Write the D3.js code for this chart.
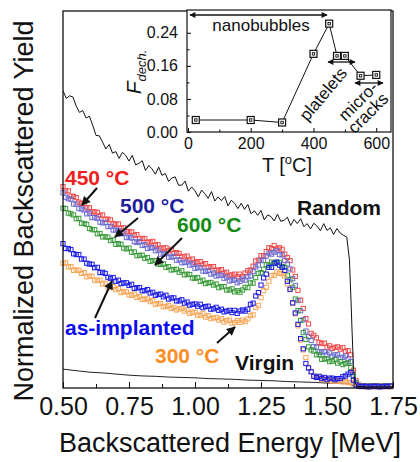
<!DOCTYPE html>
<html>
<head>
<meta charset="utf-8">
<script src="https://cdn.jsdelivr.net/npm/d3@7"></script>
<style>
body { margin: 0; background: #fff; }
svg { font-family: Arial, "Liberation Sans", sans-serif; }
</style>
</head>
<body>
<svg id="chart" width="420" height="462"></svg>
<script>
// energy channels (MeV) shared by the annealed / as-implanted spectra
var energy = [0.50,0.51,0.52,0.53,0.54,0.55,0.56,0.57,0.58,0.59,
              0.60,0.61,0.62,0.63,0.64,0.65,0.66,0.67,0.68,0.69,
              0.70,0.71,0.72,0.73,0.74,0.75,0.76,0.77,0.78,0.79,
              0.80,0.81,0.82,0.83,0.84,0.85,0.86,0.87,0.88,0.89,
              0.90,0.91,0.92,0.93,0.94,0.95,0.96,0.97,0.98,0.99,
              1.00,1.01,1.02,1.03,1.04,1.05,1.06,1.07,1.08,1.09,
              1.10,1.11,1.12,1.13,1.14,1.15,1.16,1.17,1.18,1.19,
              1.20,1.21,1.22,1.23,1.24,1.25,1.26,1.27,1.28,1.29,
              1.30,1.31,1.32,1.33,1.34,1.35,1.36,1.37,1.38,1.39,
              1.40,1.41,1.42,1.43,1.44,1.45,1.46,1.47,1.48,1.49,
              1.50,1.51,1.52,1.53,1.54,1.55,1.56,1.57,1.58,1.59,
              1.60,1.61,1.62,1.63,1.64,1.65,1.66,1.67,1.68,1.69,
              1.70,1.71,1.72,1.73,1.74];

var y450 = [0.534,0.523,0.523,0.509,0.508,0.505,0.493,0.490,0.489,0.478,
            0.478,0.468,0.467,0.466,0.457,0.459,0.447,0.448,0.446,0.436,
            0.434,0.435,0.424,0.425,0.415,0.415,0.414,0.405,0.407,0.396,
            0.397,0.396,0.387,0.387,0.389,0.379,0.380,0.371,0.371,0.372,
            0.364,0.368,0.357,0.359,0.357,0.349,0.348,0.350,0.340,0.342,
            0.333,0.335,0.335,0.327,0.330,0.320,0.322,0.322,0.313,0.312,
            0.314,0.305,0.307,0.299,0.300,0.302,0.295,0.302,0.296,0.305,
            0.311,0.313,0.323,0.337,0.339,0.351,0.351,0.362,0.372,0.370,
            0.378,0.369,0.372,0.368,0.355,0.346,0.338,0.313,0.296,0.259,
            0.233,0.211,0.184,0.170,0.145,0.140,0.133,0.121,0.118,0.119,
            0.108,0.112,0.105,0.108,0.109,0.103,0.107,0.097,0.099,0.088,
            0.047,0.019,0.008,0.005,0.006,0.004,0.005,0.004,0.005,0.006,
            0.004,0.005,0.004,0.005,0.004];
var y500 = [0.518,0.506,0.502,0.501,0.488,0.488,0.476,0.475,0.472,0.462,
            0.464,0.452,0.452,0.450,0.440,0.438,0.439,0.428,0.429,0.419,
            0.419,0.418,0.409,0.411,0.399,0.400,0.398,0.388,0.386,0.388,
            0.378,0.380,0.370,0.372,0.372,0.364,0.366,0.355,0.356,0.356,
            0.347,0.347,0.349,0.339,0.340,0.332,0.333,0.334,0.326,0.329,
            0.317,0.320,0.319,0.310,0.309,0.312,0.302,0.305,0.297,0.299,
            0.299,0.291,0.294,0.284,0.286,0.287,0.279,0.283,0.289,0.286,
            0.295,0.297,0.309,0.321,0.326,0.339,0.338,0.350,0.358,0.355,
            0.360,0.364,0.354,0.353,0.338,0.329,0.316,0.290,0.272,0.232,
            0.205,0.181,0.151,0.136,0.126,0.110,0.108,0.096,0.095,0.096,
            0.088,0.093,0.084,0.088,0.088,0.081,0.081,0.085,0.077,0.070,
            0.034,0.015,0.006,0.004,0.005,0.004,0.005,0.006,0.004,0.005,
            0.004,0.005,0.004,0.005,0.006];
var y600 = [0.477,0.476,0.464,0.462,0.459,0.449,0.450,0.437,0.436,0.434,
            0.423,0.420,0.420,0.409,0.410,0.401,0.401,0.400,0.391,0.393,
            0.381,0.383,0.381,0.371,0.369,0.371,0.360,0.361,0.351,0.352,
            0.352,0.344,0.346,0.336,0.338,0.338,0.329,0.328,0.329,0.320,
            0.322,0.313,0.314,0.315,0.307,0.311,0.300,0.302,0.301,0.292,
            0.291,0.293,0.283,0.286,0.277,0.279,0.280,0.273,0.276,0.266,
            0.269,0.269,0.260,0.260,0.263,0.255,0.258,0.254,0.260,0.267,
            0.266,0.279,0.278,0.293,0.304,0.306,0.315,0.327,0.326,0.334,
            0.330,0.333,0.333,0.322,0.320,0.299,0.287,0.267,0.236,0.205,
            0.179,0.147,0.129,0.109,0.101,0.098,0.088,0.089,0.076,0.078,
            0.077,0.070,0.071,0.075,0.066,0.070,0.062,0.065,0.067,0.054,
            0.031,0.012,0.006,0.005,0.004,0.005,0.004,0.006,0.005,0.004,
            0.005,0.004,0.006,0.005,0.004];
var yAsImpl = [0.383,0.370,0.370,0.367,0.356,0.354,0.354,0.342,0.342,0.331,
               0.329,0.328,0.319,0.320,0.306,0.307,0.304,0.294,0.291,0.293,
               0.283,0.286,0.277,0.279,0.279,0.272,0.275,0.264,0.266,0.266,
               0.258,0.258,0.261,0.252,0.254,0.246,0.248,0.249,0.242,0.246,
               0.236,0.239,0.239,0.231,0.231,0.234,0.225,0.228,0.220,0.222,
               0.223,0.217,0.222,0.213,0.216,0.217,0.209,0.210,0.214,0.206,
               0.209,0.202,0.204,0.206,0.200,0.206,0.198,0.204,0.207,0.204,
               0.209,0.222,0.225,0.244,0.253,0.273,0.292,0.302,0.320,0.320,
               0.331,0.334,0.326,0.320,0.312,0.283,0.262,0.226,0.199,0.169,
               0.131,0.104,0.065,0.053,0.043,0.031,0.028,0.031,0.025,0.028,
               0.022,0.026,0.026,0.022,0.025,0.025,0.030,0.032,0.037,0.041,
               0.021,0.008,0.005,0.004,0.005,0.004,0.003,0.005,0.004,0.005,
               0.003,0.004,0.005,0.004,0.005];
var y300 = [0.331,0.332,0.321,0.322,0.312,0.313,0.312,0.304,0.306,0.295,
            0.297,0.296,0.286,0.285,0.286,0.276,0.278,0.268,0.268,0.269,
            0.261,0.264,0.253,0.256,0.255,0.247,0.246,0.249,0.240,0.243,
            0.235,0.236,0.236,0.229,0.232,0.222,0.224,0.224,0.216,0.216,
            0.219,0.211,0.214,0.207,0.210,0.211,0.204,0.208,0.198,0.201,
            0.201,0.193,0.193,0.197,0.188,0.192,0.184,0.186,0.187,0.180,
            0.184,0.175,0.179,0.180,0.172,0.174,0.179,0.174,0.180,0.176,
            0.183,0.192,0.194,0.213,0.219,0.240,0.258,0.267,0.283,0.298,
            0.299,0.308,0.304,0.303,0.297,0.276,0.261,0.224,0.197,0.165,
            0.127,0.101,0.081,0.055,0.044,0.032,0.029,0.028,0.022,0.024,
            0.020,0.021,0.018,0.020,0.018,0.019,0.016,0.017,0.015,0.014,
            0.011,0.007,0.005,0.004,0.005,0.003,0.004,0.005,0.004,0.003,
            0.005,0.004,0.005,0.004,0.003];

// random spectrum (finer channels)
var randomE = [0.5000,0.5125,0.5250,0.5375,0.5500,0.5625,0.5750,0.5875,0.6000,0.6125,
               0.6250,0.6375,0.6500,0.6625,0.6750,0.6875,0.7000,0.7125,0.7250,0.7375,
               0.7500,0.7625,0.7750,0.7875,0.8000,0.8125,0.8250,0.8375,0.8500,0.8625,
               0.8750,0.8875,0.9000,0.9125,0.9250,0.9375,0.9500,0.9625,0.9750,0.9875,
               1.0000,1.0125,1.0250,1.0375,1.0500,1.0625,1.0750,1.0875,1.1000,1.1125,
               1.1250,1.1375,1.1500,1.1625,1.1750,1.1875,1.2000,1.2125,1.2250,1.2375,
               1.2500,1.2625,1.2750,1.2875,1.3000,1.3125,1.3250,1.3375,1.3500,1.3625,
               1.3750,1.3875,1.4000,1.4125,1.4250,1.4375,1.4500,1.4625,1.4750,1.4875,
               1.5000,1.5125,1.5250,1.5375,1.5500,1.5625,1.5750,1.5850,1.5900,1.5950,
               1.6000,1.6050,1.6150,1.6500,1.7000,1.7500];
var randomY = [0.789,0.768,0.775,0.772,0.748,0.731,0.736,0.716,0.721,0.697,
               0.670,0.669,0.652,0.634,0.646,0.623,0.627,0.609,0.625,0.617,
               0.602,0.617,0.592,0.596,0.603,0.577,0.590,0.581,0.567,0.586,
               0.564,0.569,0.548,0.557,0.560,0.538,0.538,0.549,0.522,0.533,
               0.523,0.507,0.525,0.515,0.503,0.521,0.496,0.507,0.497,0.508,
               0.483,0.498,0.490,0.476,0.490,0.474,0.487,0.462,0.470,0.458,
               0.471,0.446,0.459,0.455,0.443,0.461,0.442,0.445,0.453,0.431,
               0.447,0.436,0.449,0.428,0.436,0.422,0.437,0.429,0.417,0.436,
               0.418,0.425,0.407,0.423,0.411,0.405,0.400,0.340,0.250,0.150,
               0.060,0.015,0.004,0.003,0.003,0.003];

var virginE = [0.50,0.55,0.60,0.65,0.70,0.75,0.80,0.85,0.90,0.95,1.00,1.05,1.10,1.15,
               1.20,1.25,1.30,1.35,1.40,1.45,1.50,1.55,1.58,1.60,1.65,1.70,1.75];
var virginY = [0.050,0.046,0.042,0.040,0.037,0.034,0.032,0.031,0.029,0.028,0.027,0.025,0.024,0.023,
               0.021,0.020,0.019,0.017,0.016,0.015,0.013,0.013,0.012,0.005,0.003,0.003,0.003];

// inset: dechanneling fraction vs annealing temperature
var insetT = [25, 200, 300, 400, 450, 475, 500, 550, 600];
var insetF = [0.029, 0.029, 0.023, 0.189, 0.262, 0.184, 0.184, 0.136, 0.138];

var xTicks = [0.50, 0.75, 1.00, 1.25, 1.50, 1.75];
var xMinor = [0.625, 0.875, 1.125, 1.375, 1.625];
var insetXTicks = [0, 200, 400, 600];
var insetYTicks = [0.00, 0.08, 0.16, 0.24];

var svg = d3.select("#chart");

var margin = { top: 11, right: 27, bottom: 74, left: 63 },
    width = 420 - margin.left - margin.right,
    height = 462 - margin.top - margin.bottom;

var defs = svg.append("defs");
defs.append("marker")
    .attr("id", "head")
    .attr("viewBox", "0 0 10 10")
    .attr("refX", 9).attr("refY", 5)
    .attr("markerUnits", "userSpaceOnUse")
    .attr("markerWidth", 10).attr("markerHeight", 9)
    .attr("orient", "auto-start-reverse")
    .append("path").attr("d", "M0,0 L10,5 L0,10 Z").attr("fill", "#111");
defs.append("marker")
    .attr("id", "headSmall")
    .attr("viewBox", "0 0 10 10")
    .attr("refX", 9).attr("refY", 5)
    .attr("markerUnits", "userSpaceOnUse")
    .attr("markerWidth", 8).attr("markerHeight", 6)
    .attr("orient", "auto-start-reverse")
    .append("path").attr("d", "M0,0 L10,5 L0,10 Z").attr("fill", "#111");

var g = svg.append("g")
    .attr("transform", "translate(" + margin.left + "," + margin.top + ")");

var x = d3.scaleLinear().domain([0.5, 1.75]).range([0, width]);
var y = d3.scaleLinear().domain([0, 1]).range([height, 0]);

// x axis
g.append("g")
    .attr("transform", "translate(0," + height + ")")
    .call(d3.axisBottom(x).tickValues(xTicks).tickSize(-6).tickPadding(9).tickFormat(d3.format(".2f")))
    .call(function(a) {
        a.select(".domain").remove();
        a.selectAll("text").style("font-size", "25px").attr("fill", "#111");
        a.selectAll("line").attr("stroke", "#111");
    });
g.append("g")
    .attr("transform", "translate(0," + height + ")")
    .call(d3.axisBottom(x).tickValues(xMinor).tickSize(-4).tickFormat(""))
    .call(function(a) { a.select(".domain").remove(); a.selectAll("line").attr("stroke", "#111"); });

// spectra with open squares
var line = d3.line().x(function(d) { return x(d[0]); }).y(function(d) { return y(d[1]); });

g.append("path")
    .datum(d3.zip(virginE, virginY))
    .attr("d", line).attr("fill", "none").attr("stroke", "#222").attr("stroke-width", 1);

var series = [
    { name: "450", values: y450, color: "#f04a4a" },
    { name: "500", values: y500, color: "#6a6ad0" },
    { name: "600", values: y600, color: "#3a9a3a" },
    { name: "300", values: y300, color: "#f7a556" },
    { name: "asimpl", values: yAsImpl, color: "#1a1ae6" }
];
var sq = 4.2;
series.forEach(function(s) {
    g.append("g").selectAll("rect")
        .data(d3.zip(energy, s.values))
        .enter().append("rect")
        .attr("x", function(d) { return x(d[0]) - sq / 2; })
        .attr("y", function(d) { return y(d[1]) - sq / 2; })
        .attr("width", sq).attr("height", sq)
        .attr("fill", "none")
        .attr("stroke", s.color)
        .attr("stroke-width", 1);
});

g.append("path")
    .datum(d3.zip(randomE, randomY))
    .attr("d", line).attr("fill", "none").attr("stroke", "#111").attr("stroke-width", 1);

// frame
g.append("rect").attr("width", width).attr("height", height)
    .attr("fill", "none").attr("stroke", "#111").attr("stroke-width", 1.3);

// axis titles
svg.append("text").attr("x", 230).attr("y", 452).attr("text-anchor", "middle")
    .style("font-size", "27px").attr("fill", "#111").text("Backscattered Energy [MeV]");
svg.append("text").attr("transform", "translate(33,211) rotate(-90)").attr("text-anchor", "middle")
    .style("font-size", "27px").attr("fill", "#111").text("Normalized Backscattered Yield");

// curve labels
var labels = [
    { t: "450 °C", x: 65, y: 185, c: "#f21d1d" },
    { t: "500 °C", x: 120, y: 213, c: "#1f1f9e" },
    { t: "600 °C", x: 177, y: 232, c: "#138a13" },
    { t: "as-implanted", x: 65, y: 335, c: "#0a0af0" },
    { t: "300 °C", x: 155, y: 363, c: "#ff8c1f" },
    { t: "Virgin", x: 235, y: 370, c: "#111" },
    { t: "Random", x: 297, y: 215, c: "#111" }
];
svg.selectAll(".lbl").data(labels).enter().append("text")
    .attr("class", "lbl")
    .attr("x", function(d) { return d.x; }).attr("y", function(d) { return d.y; })
    .style("font-size", "21px").style("font-weight", "bold")
    .attr("fill", function(d) { return d.c; })
    .text(function(d) { return d.t; });

var arrows = [
    [97, 188, 82, 205],
    [138, 218, 115, 237],
    [182, 238, 155, 265],
    [95, 318, 112, 281],
    [217, 343, 235, 327]
];
svg.selectAll(".arr").data(arrows).enter().append("line")
    .attr("class", "arr")
    .attr("x1", function(d) { return d[0]; }).attr("y1", function(d) { return d[1]; })
    .attr("x2", function(d) { return d[2]; }).attr("y2", function(d) { return d[3]; })
    .attr("stroke", "#111").attr("stroke-width", 2)
    .attr("marker-end", "url(#head)");

// ---- inset ----
var inL = 187, inT = 10, inW = 204, inH = 122;
var inset = svg.append("g").attr("transform", "translate(" + inL + "," + inT + ")");
inset.append("rect").attr("width", inW).attr("height", inH).attr("fill", "#fff");

var ix = d3.scaleLinear().domain([-3, 647]).range([0, inW]);
var iy = d3.scaleLinear().domain([0, 0.295]).range([inH, 0]);

inset.append("g")
    .attr("transform", "translate(0," + inH + ")")
    .call(d3.axisBottom(ix).tickValues(insetXTicks).tickSize(-4).tickPadding(6))
    .call(function(a) {
        a.select(".domain").remove();
        a.selectAll("text").style("font-size", "16px").attr("fill", "#111");
    });
inset.append("g")
    .attr("transform", "translate(0," + inH + ")")
    .call(d3.axisBottom(ix).tickValues([100, 300, 500]).tickSize(-2.5).tickFormat(""))
    .call(function(a) { a.select(".domain").remove(); });
inset.append("g")
    .call(d3.axisLeft(iy).tickValues(insetYTicks).tickSize(-4).tickPadding(9).tickFormat(d3.format(".2f")))
    .call(function(a) {
        a.select(".domain").remove();
        a.selectAll("text").style("font-size", "16px").attr("fill", "#111");
    });
inset.append("g")
    .call(d3.axisLeft(iy).tickValues([0.04, 0.12, 0.20]).tickSize(-2.5).tickFormat(""))
    .call(function(a) { a.select(".domain").remove(); });

inset.append("path")
    .datum(d3.zip(insetT, insetF))
    .attr("d", d3.line().x(function(d) { return ix(d[0]); }).y(function(d) { return iy(d[1]); }))
    .attr("fill", "none").attr("stroke", "#111").attr("stroke-width", 1);

var pts = inset.selectAll(".ip").data(d3.zip(insetT, insetF)).enter().append("g")
    .attr("class", "ip")
    .attr("transform", function(d) { return "translate(" + ix(d[0]) + "," + iy(d[1]) + ")"; });
pts.append("rect").attr("x", -3.5).attr("y", -3.5).attr("width", 7).attr("height", 7)
    .attr("fill", "#fff").attr("stroke", "#111").attr("stroke-width", 1.2);
pts.append("rect").attr("x", -1.2).attr("y", -1.2).attr("width", 2.4).attr("height", 2.4)
    .attr("fill", "none").attr("stroke", "#111").attr("stroke-width", 0.9);

inset.append("rect").attr("width", inW).attr("height", inH)
    .attr("fill", "none").attr("stroke", "#111").attr("stroke-width", 1.2);

// inset titles
svg.append("text").attr("x", 287).attr("y", 172).attr("text-anchor", "middle")
    .style("font-size", "20px").attr("fill", "#111")
    .call(function(t) {
        t.append("tspan").text("T [");
        t.append("tspan").attr("dy", -8).style("font-size", "13px").text("o");
        t.append("tspan").attr("dy", 8).text("C]");
    });
svg.append("text").attr("transform", "translate(141,72) rotate(-90)").attr("text-anchor", "middle")
    .attr("fill", "#111").style("font-style", "italic")
    .call(function(t) {
        t.append("tspan").style("font-size", "21px").text("F");
        t.append("tspan").attr("dy", 5).style("font-size", "13px").text("dech.");
    });

// inset regime annotations
svg.append("text").attr("x", 261).attr("y", 31).attr("text-anchor", "middle")
    .style("font-size", "17px").attr("fill", "#111").text("nanobubbles");
var rot = [
    { t: "platelets", x: 323, y: 94, a: -50 },
    { t: "micro-", x: 358, y: 101, a: -45 },
    { t: "cracks", x: 368, y: 113, a: -45 }
];
svg.selectAll(".rt").data(rot).enter().append("text")
    .attr("class", "rt")
    .attr("transform", function(d) { return "translate(" + d.x + "," + d.y + ") rotate(" + d.a + ")"; })
    .attr("text-anchor", "middle").attr("dy", "0.35em")
    .style("font-size", "17px").attr("fill", "#111")
    .text(function(d) { return d.t; });

var dbl = [[190, 15, 327, 15], [328, 62, 355, 62], [355, 83, 383, 83]];
svg.selectAll(".dbl").data(dbl).enter().append("line")
    .attr("class", "dbl")
    .attr("x1", function(d) { return d[0]; }).attr("y1", function(d) { return d[1]; })
    .attr("x2", function(d) { return d[2]; }).attr("y2", function(d) { return d[3]; })
    .attr("stroke", "#111").attr("stroke-width", 1.3)
    .attr("marker-start", "url(#headSmall)")
    .attr("marker-end", "url(#headSmall)");
</script>
</body>
</html>
